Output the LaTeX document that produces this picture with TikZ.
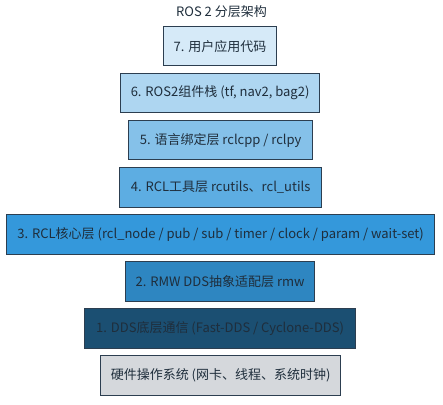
\documentclass[tikz,border=0pt]{standalone}
\usepackage{fontspec}
\setmainfont{Noto Sans CJK SC}
\definecolor{ink}{HTML}{2C3E50}
\definecolor{txt}{HTML}{1F2E3C}
\definecolor{c7}{HTML}{D6EAF8}
\definecolor{c6}{HTML}{AED6F1}
\definecolor{c5}{HTML}{85C1E9}
\definecolor{c4}{HTML}{5DADE2}
\definecolor{c3}{HTML}{3498DB}
\definecolor{c2}{HTML}{2E86C1}
\definecolor{c1}{HTML}{1B4F72}
\definecolor{c0}{HTML}{D5D8DC}
\begin{document}
\begin{tikzpicture}[x=1pt,y=-1pt,
  layer/.style={draw=ink,line width=1.2pt,text=txt,font=\fontsize{13}{15}\selectfont,inner sep=0pt,anchor=north west}]
\useasboundingbox (0,0) rectangle (443,404);
\node[text=txt,font=\fontsize{13}{15}\selectfont] (title) at (221.5,12) {ROS 2 分层架构};
\newcommand{\lay}[7]{\node[layer,fill=#6,minimum width=#3-#2,minimum height=#5-#4] (#1) at (#2,#4) {#7};}
\lay{l7}{163}{276}{26}{65}{c7}{7. 用户应用代码}
\lay{l6}{120}{319}{73}{112}{c6}{6. ROS2组件栈 (tf, nav2, bag2)}
\lay{l5}{128}{312}{120}{159}{c5}{5. 语言绑定层 rclcpp / rclpy}
\lay{l4}{119}{321}{167}{207}{c4}{4. RCL工具层 rcutils、rcl\_utils}
\lay{l3}{6}{434}{214}{254}{c3}{3. RCL核心层 (rcl\_node / pub / sub / timer / clock / param / wait-set)}
\lay{l2}{125}{314}{261}{301}{c2}{2. RMW DDS抽象适配层 rmw}
\lay{l1}{84}{355}{308}{348}{c1}{1. DDS底层通信 (Fast-DDS / Cyclone-DDS)}
\lay{l0}{100}{340}{355}{395}{c0}{硬件操作系统 (网卡、线程、系统时钟)}
\end{tikzpicture}
\end{document}
